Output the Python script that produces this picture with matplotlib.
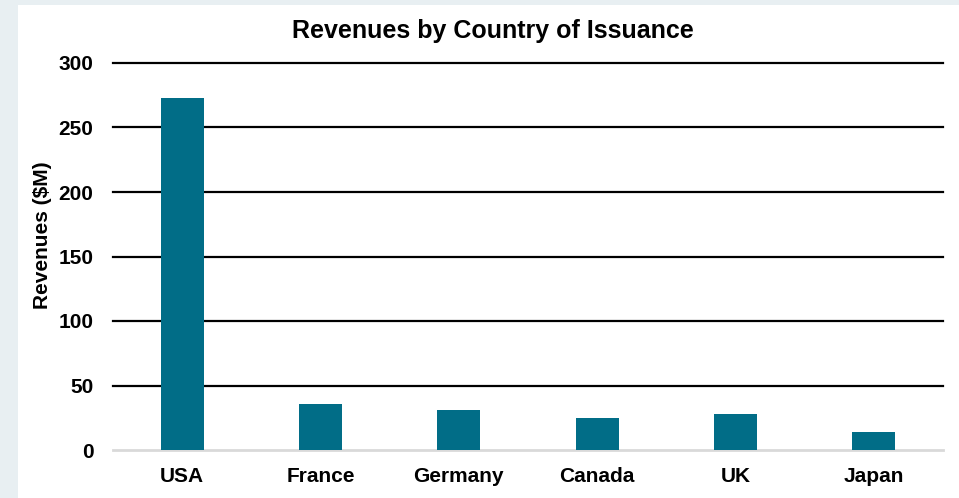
import matplotlib.pyplot as plt
from matplotlib.patches import Rectangle

countries = ["USA", "France", "Germany", "Canada", "UK", "Japan"]
revenues = [273, 36, 31, 25, 28, 14]
yticks = [0, 50, 100, 150, 200, 250, 300]

bar_color = "#016d87"

plt.rcParams["font.family"] = ["Liberation Sans", "DejaVu Sans"]
plt.rcParams["font.weight"] = "bold"

fig = plt.figure(figsize=(9.59, 4.98), dpi=100)
fig.patch.set_facecolor("#e8eff2")

# white card behind the chart
fig.patches.append(Rectangle((18 / 959, 0), 1, 1 - 5 / 498, transform=fig.transFigure,
                             facecolor="white", edgecolor="none", zorder=-10))

ax = fig.add_axes([113 / 959, 1 - 450 / 498, 830 / 959, 387 / 498])
ax.set_facecolor("none")

x = range(len(countries))
ax.bar(x, revenues, width=0.31, color=bar_color, zorder=3)

ax.set_ylim(0, 300)
ax.set_xlim(-0.5, len(countries) - 0.5)
ax.set_yticks(yticks)
ax.set_xticks(list(x))
ax.set_xticklabels(countries)

# horizontal gridlines, light baseline at zero
for y in yticks[1:]:
    ax.axhline(y, color="black", lw=1.6, zorder=2, clip_on=False)
ax.axhline(0, color="#d9d9d9", lw=2, zorder=2, clip_on=False)

for s in ax.spines.values():
    s.set_visible(False)
ax.tick_params(axis="both", length=0, labelsize=15)
ax.tick_params(axis="y", pad=14)
ax.tick_params(axis="x", pad=12)
for lab in ax.get_xticklabels() + ax.get_yticklabels():
    lab.set_fontweight("bold")

fig.text(493 / 959, 1 - 31 / 498, "Revenues by Country of Issuance",
         ha="center", va="center", fontsize=18, fontweight="bold")
fig.text(43 / 959, 1 - 235 / 498, "Revenues ($M)", rotation=90,
         ha="center", va="center", fontsize=15, fontweight="bold")

fig.savefig("out.png", dpi=100, facecolor=fig.get_facecolor())
